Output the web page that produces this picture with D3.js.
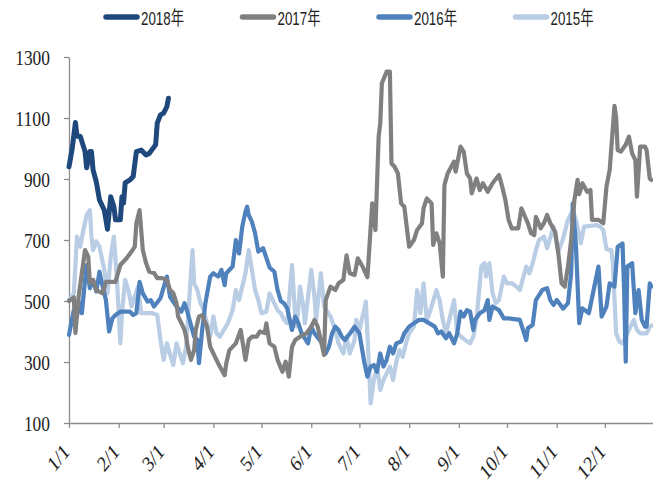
<!DOCTYPE html>
<html>
<head>
<meta charset="utf-8">
<script src="https://cdn.jsdelivr.net/npm/d3@7"></script>
<style>
body { margin: 0; background: #fff; }
</style>
</head>
<body>
<div id="chart-area"></div>
<script>
// series: [day of year (0 = 1/1), value]
var seriesNames = ["2018年", "2017年", "2016年", "2015年"];
var seriesColors = ["#1f497d", "#808080", "#4f81bd", "#b9cde5"];
var yTicks = [100, 300, 500, 700, 900, 1100, 1300];

var s2018 = [[0,940],[2,1000],[4,1085],[5,1040],[7,1040],[10,990],[11,937],[13,990],[14,990],[15,930],[17,891],[19,831],[22,798],[24,735],[26,842],[28,809],[29,766],[32,766],[33,842],[34,821],[35,887],[38,897],[40,908],[42,990],[45,995],[48,979],[50,984],[54,1012],[55,1083],[57,1110],[59,1116],[61,1137],[62,1165]];

var s2017 = [[0,500],[3,512],[4,395],[6,514],[8,591],[10,667],[12,645],[13,560],[15,569],[17,536],[21,525],[23,563],[29,563],[32,618],[36,641],[39,662],[41,678],[42,755],[44,798],[46,667],[48,625],[50,596],[53,592],[55,575],[58,575],[61,569],[63,536],[65,526],[67,493],[68,449],[70,428],[72,405],[73,383],[74,350],[76,307],[78,339],[79,405],[81,449],[83,454],[86,416],[88,350],[91,317],[94,285],[97,257],[98,295],[100,339],[104,361],[107,405],[110,307],[112,372],[114,383],[117,383],[119,400],[122,395],[123,427],[125,361],[128,350],[130,307],[133,268],[135,301],[137,252],[139,350],[141,372],[144,383],[148,394],[151,416],[153,438],[155,416],[159,323],[160,503],[163,547],[166,536],[168,558],[171,569],[173,650],[175,591],[178,585],[180,640],[183,613],[186,578],[189,820],[191,733],[193,1039],[194,1083],[195,1214],[198,1252],[200,1252],[201,951],[203,940],[205,918],[207,820],[209,809],[212,678],[215,700],[217,733],[220,754],[221,804],[223,836],[226,820],[227,684],[229,722],[231,690],[233,580],[234,880],[236,918],[240,957],[241,924],[244,1006],[246,990],[248,918],[250,902],[251,853],[254,902],[256,864],[258,886],[261,858],[264,886],[268,913],[270,875],[272,831],[274,766],[276,738],[280,738],[282,804],[286,755],[288,722],[290,716],[291,776],[294,738],[296,755],[298,782],[300,755],[303,727],[305,656],[307,558],[309,547],[311,613],[313,700],[315,831],[317,897],[318,850],[320,886],[323,858],[325,864],[326,766],[330,766],[333,755],[335,875],[337,930],[340,1140],[341,1104],[342,995],[344,990],[347,1012],[349,1039],[351,984],[353,962],[354,842],[356,1006],[359,1006],[360,995],[362,902],[363,897]];

var s2016 = [[0,389],[3,470],[5,449],[6,498],[8,460],[10,569],[11,618],[13,542],[15,569],[17,531],[19,596],[21,547],[23,503],[25,400],[27,443],[29,454],[32,465],[38,465],[40,454],[42,460],[44,563],[46,525],[49,498],[51,503],[53,482],[57,509],[61,580],[63,514],[67,482],[70,465],[72,493],[74,460],[78,383],[80,372],[81,296],[83,405],[85,493],[88,580],[90,591],[93,580],[95,602],[97,552],[98,591],[102,613],[104,700],[106,656],[108,744],[110,793],[111,809],[112,782],[114,760],[116,722],[118,662],[121,673],[125,610],[128,596],[130,536],[132,500],[134,493],[136,476],[139,405],[141,449],[143,427],[145,394],[149,361],[151,416],[153,394],[158,361],[160,328],[162,350],[164,394],[166,416],[168,405],[170,383],[172,372],[176,400],[178,416],[181,394],[184,301],[186,252],[188,285],[190,290],[192,268],[194,328],[196,285],[198,307],[200,350],[202,328],[204,361],[207,367],[209,394],[212,416],[215,427],[218,438],[221,438],[228,416],[230,394],[232,400],[235,378],[237,394],[240,361],[242,394],[244,465],[246,449],[248,470],[250,465],[252,405],[253,438],[256,460],[259,470],[261,503],[262,438],[264,482],[268,470],[271,443],[274,443],[281,438],[283,405],[285,372],[286,411],[289,421],[291,503],[295,536],[298,542],[300,503],[302,487],[304,503],[308,475],[311,493],[313,591],[314,820],[316,678],[318,427],[320,476],[324,460],[327,536],[330,613],[332,449],[335,482],[337,558],[340,547],[342,678],[345,689],[346,536],[347,301],[348,613],[351,624],[353,460],[355,536],[357,438],[359,416],[360,416],[362,558],[363,547]];

var s2015 = [[0,503],[3,525],[5,711],[7,678],[9,733],[11,782],[13,798],[14,711],[15,667],[17,695],[19,678],[22,602],[24,525],[26,645],[28,711],[30,558],[32,361],[33,460],[35,569],[37,536],[39,482],[43,547],[45,460],[49,460],[52,460],[55,454],[57,372],[59,307],[61,361],[65,290],[67,361],[71,296],[73,350],[77,667],[78,558],[80,536],[82,493],[84,470],[86,427],[88,383],[90,449],[92,394],[94,383],[99,427],[102,470],[104,536],[106,503],[110,591],[112,667],[114,602],[116,536],[118,503],[120,460],[123,465],[125,525],[130,470],[132,460],[134,438],[136,427],[139,618],[141,449],[142,416],[144,547],[146,482],[147,427],[151,602],[153,514],[154,438],[157,591],[159,482],[163,449],[166,405],[168,361],[171,328],[173,383],[175,328],[178,372],[179,438],[181,405],[183,449],[185,498],[187,285],[188,164],[190,241],[192,285],[194,208],[196,241],[198,263],[200,285],[202,241],[204,301],[206,339],[208,317],[210,361],[212,394],[215,416],[217,536],[219,460],[221,558],[223,438],[225,465],[229,536],[231,503],[233,438],[235,394],[240,503],[242,394],[247,372],[250,361],[252,383],[254,438],[257,613],[259,624],[260,580],[262,624],[264,525],[266,493],[268,503],[271,580],[273,558],[276,558],[279,547],[281,536],[285,613],[287,591],[289,624],[291,667],[293,700],[296,711],[298,673],[302,744],[305,662],[308,706],[311,766],[314,798],[316,766],[319,689],[321,744],[329,749],[331,744],[333,733],[335,670],[338,667],[339,624],[341,394],[343,367],[345,361],[350,416],[352,438],[354,405],[356,394],[360,394],[362,416],[364,421]];

var allSeries = [s2018, s2017, s2016, s2015];
var lineWidths = [5, 4.2, 4.2, 4.2];

var margin = {top: 57, right: 0, bottom: 63, left: 69};
var width = 653 - margin.left - margin.right;
var height = 486 - margin.top - margin.bottom;

var svg = d3.select("#chart-area")
    .append("svg")
    .attr("width", 653)
    .attr("height", 486);

var g = svg.append("g")
    .attr("transform", "translate(" + margin.left + ", " + margin.top + ")");

var start = new Date(2001, 0, 1);
function toDate(day) { return d3.timeDay.offset(start, day); }

var x = d3.scaleTime()
    .domain([start, new Date(2001, 11, 31)])
    .range([0, width]);

var y = d3.scaleLinear()
    .domain([100, 1300])
    .range([height, 0]);

var yAxisCall = d3.axisLeft(y)
    .tickValues(yTicks)
    .tickFormat(d3.format("d"))
    .tickSize(5)
    .tickSizeOuter(0)
    .tickPadding(14);

var xAxisCall = d3.axisBottom(x)
    .ticks(d3.timeMonth.every(1))
    .tickFormat(d3.timeFormat("%-m/%-d"))
    .tickSize(5)
    .tickSizeOuter(0);

var yAxisGroup = g.append("g").attr("class", "y-axis").call(yAxisCall);
var xAxisGroup = g.append("g").attr("class", "x-axis")
    .attr("transform", "translate(0, " + height + ")")
    .call(xAxisCall);

g.selectAll(".domain, .tick line").attr("stroke", "#8c8c8c").attr("stroke-width", 1.3);

yAxisGroup.selectAll("text")
    .attr("font-family", "'Liberation Serif', 'Times New Roman', serif")
    .attr("font-size", "22px")
    .attr("fill", "#222")
    .attr("textLength", (d) => String(d).length * 8.7)
    .attr("lengthAdjust", "spacingAndGlyphs");

// the labels look squeezed sideways in the original, hence the scale
xAxisGroup.selectAll("text")
    .attr("font-family", "'Liberation Serif', 'Times New Roman', serif")
    .attr("font-size", "22px")
    .attr("fill", "#222")
    .attr("text-anchor", "end")
    .attr("dy", "0")
    .attr("y", 0)
    .attr("x", 0)
    .attr("transform", "translate(1, 30) scale(0.8, 1) rotate(-45)");

var line = d3.line()
    .x((d) => x(toDate(d[0])))
    .y((d) => y(d[1]));

// drawn 2015 first so 2018 ends up on top
for (var i = allSeries.length - 1; i >= 0; i--) {
    g.append("path")
        .datum(allSeries[i])
        .attr("fill", "none")
        .attr("stroke", seriesColors[i])
        .attr("stroke-width", lineWidths[i])
        .attr("stroke-linejoin", "round")
        .attr("stroke-linecap", "round")
        .attr("d", line);
}

var legend = svg.append("g");
seriesNames.forEach((name, index) => {
    var lx = 106 + index * 136.5;
    legend.append("line")
        .attr("x1", lx).attr("x2", lx + 31)
        .attr("y1", 17).attr("y2", 17)
        .attr("stroke", seriesColors[index])
        .attr("stroke-width", 5.5)
        .attr("stroke-linecap", "round");
    legend.append("text")
        .attr("x", lx + 35)
        .attr("y", 25)
        .attr("font-family", "'Liberation Sans Narrow', 'Liberation Sans', 'Noto Sans CJK SC', sans-serif")
        .attr("font-size", "19px")
        .attr("fill", "#222")
        .attr("textLength", 43)
        .attr("lengthAdjust", "spacingAndGlyphs")
        .text(name);
});
</script>
</body>
</html>
